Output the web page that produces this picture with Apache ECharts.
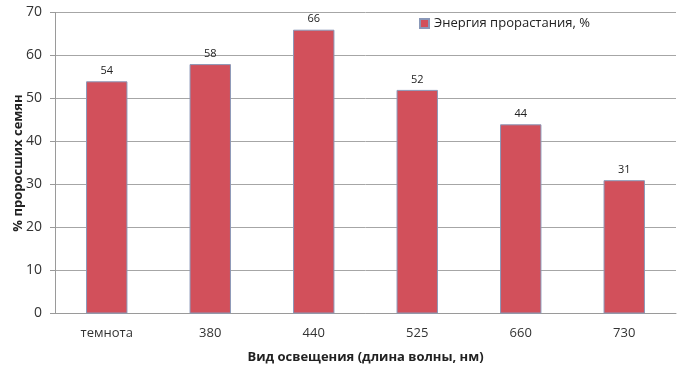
<!DOCTYPE html>
<html><head><meta charset="utf-8">
<script src="https://cdn.jsdelivr.net/npm/echarts@6/dist/echarts.min.js"></script>
<style>html,body{margin:0;padding:0;background:#fff}#c{width:687px;height:369px}</style>
</head><body><div id="c"></div>
<script>
const categories = ['темнота', '380', '440', '525', '660', '730'];
const values = [54, 58, 66, 52, 44, 31];
const yTicks = {min: 0, max: 70, interval: 10};
const seriesName = 'Энергия прорастания, %';
const xTitle = 'Вид освещения (длина волны, нм)';
const yTitle = '% проросших семян';

const FONT = '"Open Sans", "Liberation Sans", sans-serif';
const chart = echarts.init(document.getElementById('c'), null, {renderer: 'canvas'});
chart.setOption({
  animation: false,
  backgroundColor: '#fff',
  textStyle: {fontFamily: FONT},
  grid: {left: 55, right: 11, top: 12.5, bottom: 55.5, containLabel: false, outerBoundsMode: 'none'},
  legend: {
    data: [seriesName], left: 414, top: 12, itemWidth: 9, itemHeight: 9, itemGap: 3,
    icon: 'rect',
    textStyle: {fontFamily: FONT, fontSize: 13, color: '#222'}
  },
  xAxis: {
    type: 'category', data: categories,
    name: xTitle, nameLocation: 'middle', nameGap: 37, nameMoveOverlap: false,
    nameTextStyle: {fontFamily: FONT, fontSize: 13, fontWeight: 'bold', color: '#222'},
    axisLine: {lineStyle: {color: '#9a9a9a'}},
    axisTick: {show: false},
    axisLabel: {fontFamily: FONT, fontSize: 13, color: '#333', margin: 13}
  },
  yAxis: {
    type: 'value', min: yTicks.min, max: yTicks.max, interval: yTicks.interval,
    name: yTitle, nameLocation: 'middle', nameGap: 30, nameRotate: 90, nameMoveOverlap: false,
    nameTextStyle: {fontFamily: FONT, fontSize: 13, fontWeight: 'bold', color: '#222'},
    axisLine: {show: true, lineStyle: {color: '#9a9a9a'}},
    axisTick: {show: true, length: 5, lineStyle: {color: '#9a9a9a'}},
    axisLabel: {fontFamily: FONT, fontSize: 14, color: '#333', margin: 13},
    splitLine: {lineStyle: {color: '#a6a6a6'}}
  },
  series: [{
    name: seriesName, type: 'bar', data: values,
    barWidth: '40%',
    itemStyle: {color: '#d2505b', borderColor: '#8a98b8', borderWidth: 1},
    label: {show: true, position: 'top', distance: 5, fontFamily: FONT, fontSize: 11, color: '#222'}
  }]
});
</script></body></html>
